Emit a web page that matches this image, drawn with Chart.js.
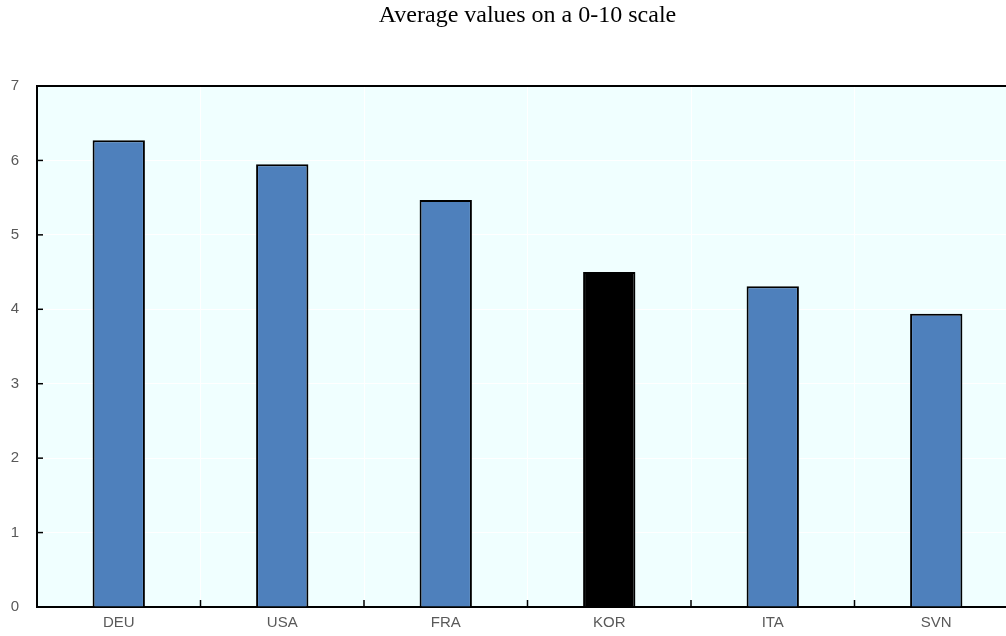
<!DOCTYPE html>
<html lang="en">
<head>
    <meta charset="UTF-8">
    <title>Average values</title>
    <style>
        html, body { margin: 0; padding: 0; background: #fff; overflow: hidden; }
        .wrap { width: 1006px; height: 636px; overflow: hidden; }
        .box { width: 1020px; height: 636px; }
    </style>
</head>
<body>
    <div class="wrap">
        <div class="box"><canvas id="avgChart"></canvas></div>
    </div>

    <script src="https://cdn.jsdelivr.net/npm/chart.js"></script>
    <script>
        const countries = ['DEU', 'USA', 'FRA', 'KOR', 'ITA', 'SVN'];
        const averages = [6.27, 5.95, 5.47, 4.50, 4.31, 3.94];
        const yTicks = [0, 1, 2, 3, 4, 5, 6, 7];

        const barColors = countries.map(c => c === 'KOR' ? '#000000' : '#4E80BC');
        const tickFont = { family: '"Liberation Sans Narrow", "Arial Narrow", "Liberation Sans", sans-serif', size: 15 };

        // light plot background, top border and inside tick marks
        const plotDecor = {
            id: 'plotDecor',
            beforeDraw(chart) {
                const { ctx, chartArea: a } = chart;
                ctx.save();
                ctx.fillStyle = '#F0FFFF';
                ctx.fillRect(a.left, a.top, a.right - a.left, a.bottom - a.top);
                ctx.restore();
            },
            afterDraw(chart) {
                const { ctx, chartArea: a, scales } = chart;
                ctx.save();
                ctx.strokeStyle = '#000';
                ctx.lineWidth = 2;
                ctx.beginPath();
                ctx.moveTo(a.left, a.top);
                ctx.lineTo(a.right, a.top);
                ctx.stroke();
                ctx.lineWidth = 1.5;
                yTicks.forEach(v => {
                    const y = scales.y.getPixelForValue(v);
                    ctx.beginPath();
                    ctx.moveTo(a.left, y);
                    ctx.lineTo(a.left + 6, y);
                    ctx.stroke();
                });
                for (let i = 1; i < countries.length; i++) {
                    const x = (scales.x.getPixelForValue(i - 1) + scales.x.getPixelForValue(i)) / 2;
                    ctx.beginPath();
                    ctx.moveTo(x, a.bottom);
                    ctx.lineTo(x, a.bottom - 7);
                    ctx.stroke();
                }
                ctx.restore();
            }
        };

        new Chart(document.getElementById('avgChart'), {
            type: 'bar',
            data: {
                labels: countries,
                datasets: [{
                    data: averages,
                    backgroundColor: barColors,
                    borderColor: '#000',
                    borderWidth: 2,
                    barPercentage: 0.32,
                    categoryPercentage: 1
                }]
            },
            options: {
                responsive: true,
                maintainAspectRatio: false,
                animation: false,
                layout: { padding: { top: 0, right: 2, left: 0, bottom: 0 } },
                plugins: {
                    legend: { display: false },
                    tooltip: { enabled: false },
                    title: {
                        display: true,
                        fullSize: false,
                        text: 'Average values on a 0-10 scale',
                        color: '#000',
                        font: { family: '"Liberation Serif", "Times New Roman", serif', size: 24, weight: 'normal', lineHeight: 1.2 },
                        padding: { top: 1, bottom: 56.2 }
                    }
                },
                scales: {
                    x: {
                        offset: true,
                        grid: { display: true, offset: true, color: '#FFFFFF', lineWidth: 1, drawTicks: false },
                        border: { display: true, color: '#000', width: 2 },
                        ticks: { color: '#595959', font: tickFont, padding: 7 },
                        afterFit(s) { s.height = 29; }
                    },
                    y: {
                        min: 0,
                        max: 7,
                        grid: { color: '#FFFFFF', lineWidth: 1, drawTicks: false },
                        border: { display: true, color: '#000', width: 2 },
                        ticks: { stepSize: 1, color: '#595959', font: tickFont, padding: 18 },
                        afterFit(s) { s.width = 37; }
                    }
                }
            },
            plugins: [plotDecor]
        });
    </script>
</body>
</html>
